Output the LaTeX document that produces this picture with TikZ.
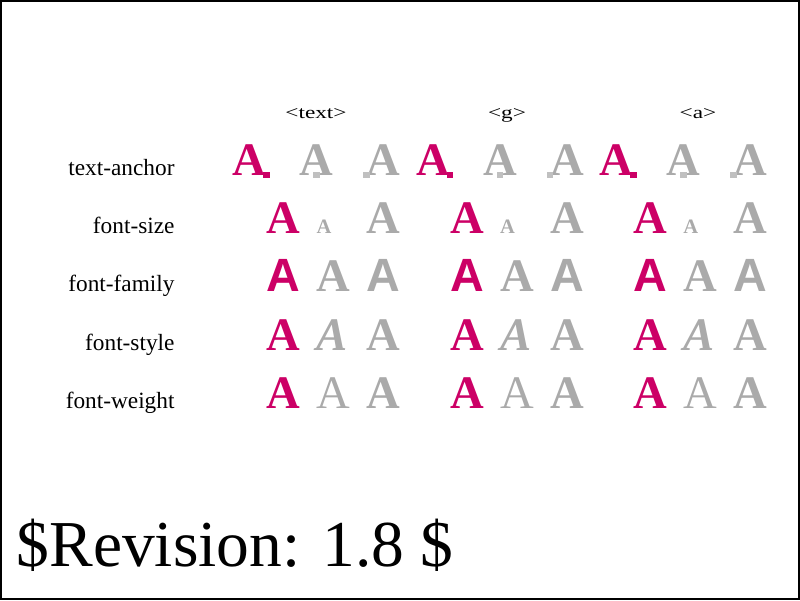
\documentclass[tikz,border=0pt]{standalone}
\usepackage{fontspec}
\setmainfont{Liberation Serif}
\newfontfamily\sansf{Liberation Sans}
\definecolor{mag}{RGB}{204,0,102}
\definecolor{gry}{RGB}{170,170,170}
\definecolor{sqg}{RGB}{192,192,192}
\begin{document}
\begin{tikzpicture}[x=1pt,y=-1pt,
  every node/.style={inner sep=0pt, outer sep=0pt},
  lab/.style={anchor=base east, font=\fontsize{23.3}{26}\selectfont},
  col/.style={anchor=base, font=\fontsize{17.5}{20}\selectfont, xscale=1.33},
  bigA/.style={font=\fontsize{46.67}{50}\selectfont\bfseries},
  smallA/.style={font=\fontsize{20.5}{22}\selectfont\bfseries},
  sansA/.style={font=\fontsize{46.67}{50}\selectfont\sansf\bfseries},
  italA/.style={font=\fontsize{46.67}{50}\selectfont\bfseries\itshape},
  normA/.style={font=\fontsize{46.67}{50}\selectfont},
  marker/.style={draw=none, minimum size=6.7pt, shape=rectangle},
  rev/.style={anchor=base west, font=\fontsize{65.5}{70}\selectfont}
]
\useasboundingbox (0,0) rectangle (800,600);
\draw[line width=1.3pt] (1,1) rectangle (799,599);

% column labels
\node[col] (ctext) at (316,118) {<text>};
\node[col] (cg) at (507,118) {<g>};
\node[col] (ca) at (698,118) {<a>};

% row labels
\node[lab] (ltext) at (174.5,175) {text-anchor};
\node[lab] (lsize) at (174.5,233.3) {font-size};
\node[lab] (lfam) at (174.5,291.7) {font-family};
\node[lab] (lstyle) at (174.5,350) {font-style};
\node[lab] (lweight) at (174.5,408.3) {font-weight};

\foreach \g in {0,1,2} {
  \pgfmathsetmacro{\xa}{266.7+183.33*\g}
  \pgfmathsetmacro{\xb}{316.7+183.33*\g}
  \pgfmathsetmacro{\xc}{366.7+183.33*\g}
  % text-anchor row
  \node[bigA, text=mag, anchor=base east] (ta\g a) at (\xa,175) {A};
  \node[bigA, text=gry, anchor=base] (ta\g b) at (\xb,175) {A};
  \node[bigA, text=gry, anchor=base west] (ta\g c) at (\xc,175) {A};
  \node[marker, fill=mag] (sq\g a) at (\xa,175) {};
  \node[marker, fill=sqg] (sq\g b) at (\xb,175) {};
  \node[marker, fill=sqg] (sq\g c) at (\xc,175) {};
  % font-size row
  \node[bigA, text=mag, anchor=base west] (fs\g a) at (\xa,233.3) {A};
  \node[smallA, text=gry, anchor=base west] (fs\g b) at (\xb,233.3) {A};
  \node[bigA, text=gry, anchor=base west] (fs\g c) at (\xc,233.3) {A};
  % font-family row
  \node[sansA, text=mag, anchor=base west] (ff\g a) at (\xa,291.7) {A};
  \node[bigA, text=gry, anchor=base west] (ff\g b) at (\xb,291.7) {A};
  \node[sansA, text=gry, anchor=base west] (ff\g c) at (\xc,291.7) {A};
  % font-style row
  \node[bigA, text=mag, anchor=base west] (fst\g a) at (\xa,350) {A};
  \node[italA, text=gry, anchor=base west] (fst\g b) at (\xb,350) {A};
  \node[bigA, text=gry, anchor=base west] (fst\g c) at (\xc,350) {A};
  % font-weight row
  \node[bigA, text=mag, anchor=base west] (fw\g a) at (\xa,408.3) {A};
  \node[normA, text=gry, anchor=base west] (fw\g b) at (\xb,408.3) {A};
  \node[bigA, text=gry, anchor=base west] (fw\g c) at (\xc,408.3) {A};
}

\node[rev] (revision) at (16.7,566) {\$Revision: 1.8 \$};
\end{tikzpicture}
\end{document}
